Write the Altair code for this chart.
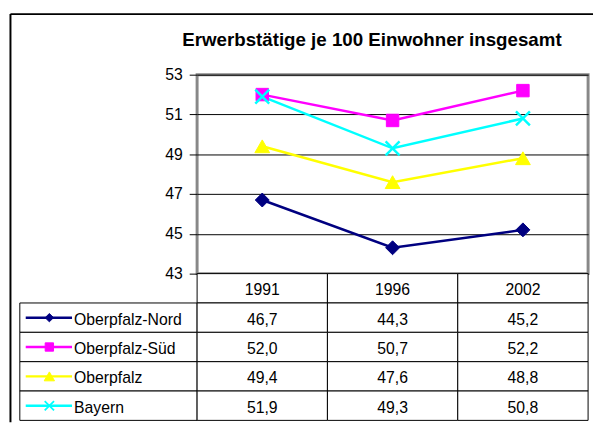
import altair as alt
import pandas as pd

# ---- data ----
years = ["1991", "1996", "2002"]
series = ["Oberpfalz-Nord", "Oberpfalz-Süd", "Oberpfalz", "Bayern"]
nord = [46.7, 44.3, 45.2]
sued = [52.0, 50.7, 52.2]
opf = [49.4, 47.6, 48.8]
bayern = [51.9, 49.3, 50.8]
y_ticks = [43, 45, 47, 49, 51, 53]
title_text = "Erwerbstätige je 100 Einwohner insgesamt"

# ---- styles ----
FONT = "Liberation Sans"
colors = ["#000080", "#FF00FF", "#FFFF00", "#00FFFF"]
shapes = ["diamond", "square", "triangle-up", "M-1,-1L1,1M-1,1L1,-1"]
plot_sizes = [200, 160, 225, 200]
plot_strokes = [1, 1, 1, 2.5]
glyph_sizes = [72, 72, 110, 90]
glyph_strokes = [1, 1, 1, 1.8]

value_map = dict(zip(series, [nord, sued, opf, bayern]))
rows = []
for s in series:
    for yr, v in zip(years, value_map[s]):
        rows.append({"Serie": s, "Jahr": yr, "Wert": v,
                     "Text": f"{v:.1f}".replace(".", ",")})
df = pd.DataFrame(rows)

header_key = "Kopf"
row_domain = [header_key] + series
header_df = pd.DataFrame({"Zeile": [header_key] * len(years), "Jahr": years, "Text": years})
body_df = df.rename(columns={"Serie": "Zeile"})[["Zeile", "Jahr", "Text"]]
cells_df = pd.concat([header_df, body_df], ignore_index=True)
legend_df = pd.DataFrame({"Serie": series})

color_scale = alt.Scale(domain=series, range=colors)
shape_scale = alt.Scale(domain=series, range=shapes)
row_scale = alt.Scale(domain=row_domain, paddingInner=0, paddingOuter=0)

# ---- line chart ----
x_pt = alt.X("Jahr:N", scale=alt.Scale(type="point", domain=years, padding=0.5), axis=None)
y_val = alt.Y(
    "Wert:Q",
    scale=alt.Scale(domain=[43, 53], nice=False, zero=False),
    axis=alt.Axis(values=y_ticks, title=None, grid=True, gridColor="black",
                  gridWidth=1, gridOpacity=1, domain=False, ticks=True,
                  tickColor="black", tickSize=8, tickWidth=1, labelPadding=7,
                  labelFont=FONT, labelFontSize=16, labelColor="black"),
)
base = alt.Chart(df)
lines = base.mark_line(strokeWidth=2.5).encode(
    x=x_pt, y=y_val,
    color=alt.Color("Serie:N", scale=color_scale, legend=None),
)
points = base.mark_point(filled=True, opacity=1).encode(
    x=x_pt, y=alt.Y("Wert:Q"),
    fill=alt.Fill("Serie:N", scale=color_scale, legend=None),
    stroke=alt.Stroke("Serie:N", scale=color_scale, legend=None),
    shape=alt.Shape("Serie:N", scale=shape_scale, legend=None),
    size=alt.Size("Serie:N", scale=alt.Scale(type="ordinal", domain=series, range=plot_sizes), legend=None),
    strokeWidth=alt.StrokeWidth("Serie:N", scale=alt.Scale(type="ordinal", domain=series, range=plot_strokes), legend=None),
)
line_chart = alt.layer(lines, points).properties(
    width=397, height=202,
    title=alt.TitleParams(title_text, font=FONT, fontSize=19, fontWeight="bold",
                          color="black", anchor="middle", dx=-21, offset=17),
    view=alt.ViewBackground(stroke="#888888", strokeWidth=3, fill="white"),
)

# ---- spacer with outer frame ----
frame_df = pd.DataFrame({"k": [0]})
frame_v = alt.Chart(frame_df).mark_rule(color="black", strokeWidth=2).encode(
    x=alt.value(-9.5), y=alt.value(-61.5), y2=alt.value(353))
frame_h = alt.Chart(frame_df).mark_rule(color="black", strokeWidth=2).encode(
    x=alt.value(-9.5), x2=alt.value(582), y=alt.value(-61.5))
spacer = alt.layer(frame_v, frame_h).properties(
    width=180, height=202, view=alt.ViewBackground(stroke=None))

# ---- legend label column ----
y_row = alt.Y("Serie:N", scale=row_scale, axis=None)
lab_base = alt.Chart(legend_df)
lab_cells = lab_base.mark_rect(fill="white", stroke="black", strokeWidth=1).encode(y=y_row)
lab_line = lab_base.mark_rule(strokeWidth=2.5).encode(
    x=alt.value(6), x2=alt.value(53), y=y_row,
    color=alt.Color("Serie:N", scale=color_scale, legend=None))
lab_pt = lab_base.mark_point(filled=True, opacity=1).encode(
    x=alt.value(30), y=y_row,
    fill=alt.Fill("Serie:N", scale=color_scale, legend=None),
    stroke=alt.Stroke("Serie:N", scale=color_scale, legend=None),
    shape=alt.Shape("Serie:N", scale=shape_scale, legend=None),
    size=alt.Size("Serie:N", scale=alt.Scale(type="ordinal", domain=series, range=glyph_sizes), legend=None),
    strokeWidth=alt.StrokeWidth("Serie:N", scale=alt.Scale(type="ordinal", domain=series, range=glyph_strokes), legend=None),
)
lab_text = lab_base.mark_text(align="left", baseline="middle", font=FONT,
                              fontSize=16, color="black", dy=2).encode(
    x=alt.value(55), y=y_row, text="Serie:N")
labels_chart = alt.layer(lab_cells, lab_line, lab_pt, lab_text).properties(
    width=180, height=149, view=alt.ViewBackground(stroke=None))

# ---- value table ----
x_band = alt.X("Jahr:N", scale=alt.Scale(domain=years, paddingInner=0, paddingOuter=0), axis=None)
y_cell = alt.Y("Zeile:N", scale=row_scale, axis=None)
tbase = alt.Chart(cells_df)
t_cells = tbase.mark_rect(fill="white", stroke="black", strokeWidth=1).encode(x=x_band, y=y_cell)
t_text = tbase.mark_text(baseline="middle", font=FONT, fontSize=16, color="black", dy=2).encode(
    x=x_band, y=y_cell, text="Text:N")
values_chart = alt.layer(t_cells, t_text).properties(
    width=397, height=149, view=alt.ViewBackground(stroke=None))

chart = alt.concat(
    spacer, line_chart, labels_chart, values_chart,
    columns=2, spacing=0, bounds="flush",
).resolve_scale(
    size="independent", strokeWidth="independent"
).properties(
    padding={"left": 1, "top": 1.5, "right": 0, "bottom": 0},
).configure(
    font=FONT, background="white",
)

chart.save("out.html", embed_options={"renderer": "svg", "actions": False})
